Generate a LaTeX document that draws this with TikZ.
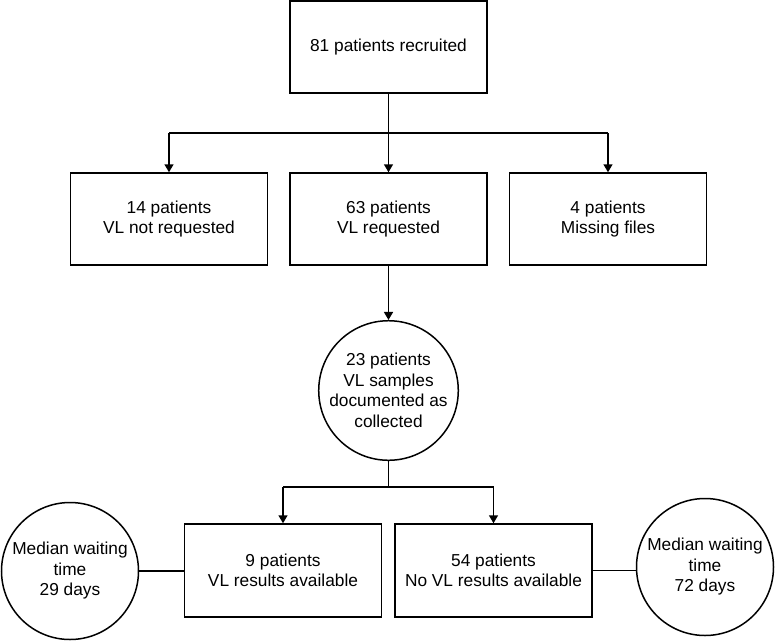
\documentclass[tikz,border=0pt]{standalone}
\usepackage{fontspec}
\setmainfont{Liberation Sans}
\usetikzlibrary{arrows.meta}
\begin{document}
\begin{tikzpicture}[x=1pt,y=-1pt,
  every node/.style={font=\fontsize{17.3}{20.5}\selectfont, align=center, inner sep=0pt},
  box/.style={draw, line width=1.5pt, minimum width=197pt, minimum height=92pt},
  circ/.style={draw, circle, line width=1.5pt, minimum size=137pt},
  conn/.style={line width=1.5pt},
  arr/.style={conn, -{Triangle[length=8pt,width=9pt]}}]
\useasboundingbox (0,0) rectangle (777,641);
\node[box] (top) at (388.5,47) {81 patients recruited};
\node[box] (m1) at (169,219) {14 patients\\VL not requested};
\node[box] (m2) at (388.5,219) {63 patients\\VL requested};
\node[box] (m3) at (608,219) {4 patients\\Missing files};
\node[circ] (c) at (388.5,390.5) {23 patients\\VL samples\\documented as\\collected};
\node[box, minimum height=93pt] (b1) at (283,570.5) {9 patients\\VL results available};
\node[box, minimum height=93pt] (b2) at (493.5,570.5) {54 patients\\No VL results available};
\node[circ] (lc) at (70,571) {Median waiting\\time\\29 days};
\node[circ] (rc) at (705,567) {Median waiting\\time\\72 days};
\coordinate (j1) at (388.5,133);
\coordinate (j1l) at (169,133);
\coordinate (j1r) at (608,133);
\coordinate (j2) at (388.5,487);
\coordinate (j2l) at (283,487);
\coordinate (j2r) at (493.5,487);
\draw[conn] (top.south) -- (j1);
\draw[conn] (j1l) -- (j1r);
\draw[arr] (j1l) -- (m1.north);
\draw[arr] (j1) -- (m2.north);
\draw[arr] (j1r) -- (m3.north);
\draw[arr] (m2.south) -- (c.north);
\draw[conn] (c.south) -- (j2);
\draw[conn] (j2l) -- (j2r);
\draw[arr] (j2l) -- (b1.north);
\draw[arr] (j2r) -- (b2.north);
\draw[conn] (lc.east) -- (lc.east -| b1.west);
\draw[conn] (b2.east) -- (b2.east -| rc.west);
\end{tikzpicture}
\end{document}
